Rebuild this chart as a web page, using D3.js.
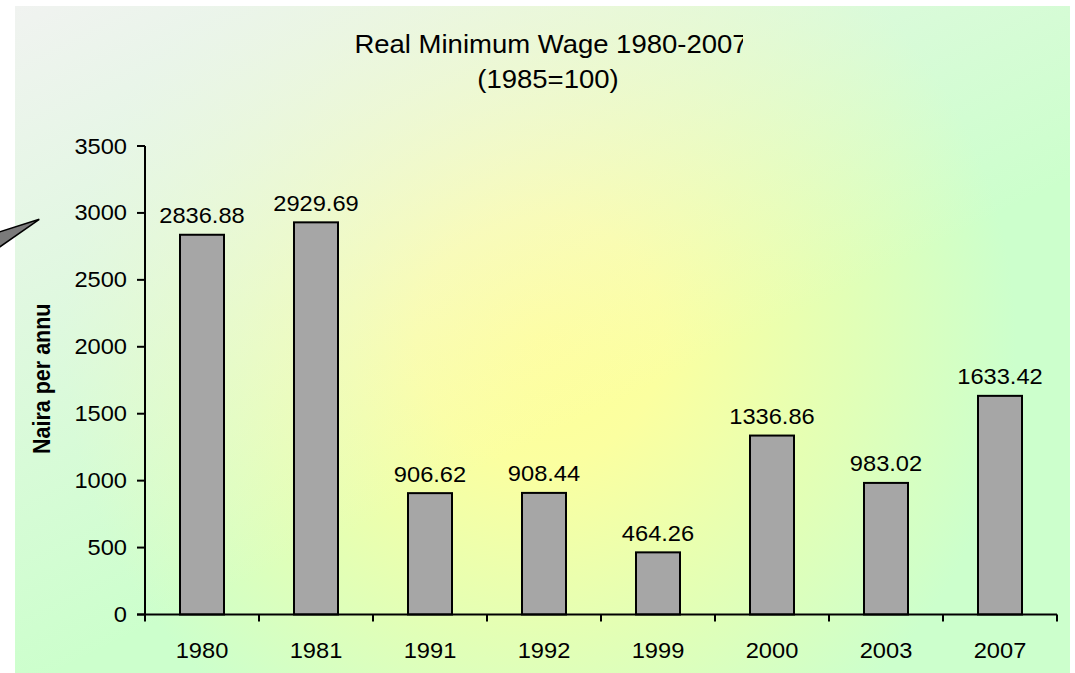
<!DOCTYPE html>
<html>
<head>
<meta charset="utf-8">
<script src="https://cdnjs.cloudflare.com/ajax/libs/d3/7.8.5/d3.min.js"></script>
<style>
  body { margin: 0; background: #fff; }
  svg { display: block; font-family: Arial, "Liberation Sans", sans-serif; }
</style>
</head>
<body>
<svg width="1075" height="673"></svg>
<script>
// chart data
var years = ["1980", "1981", "1991", "1992", "1999", "2000", "2003", "2007"];
var wages = [2836.88, 2929.69, 906.62, 908.44, 464.26, 1336.86, 983.02, 1633.42];
var yTicks = [0, 500, 1000, 1500, 2000, 2500, 3000, 3500];
var titleLines = ["Real Minimum Wage 1980-2007", "(1985=100)"];
var yLabel = "Naira per annum";

var SX = 1.1; // picture is stretched sideways a bit
var margin = { top: 146, left: 145, right: 18, bottom: 58 };
var width = 1075 - margin.left - margin.right;
var height = 673 - margin.top - margin.bottom - 0.5;

var svg = d3.select("svg");
var defs = svg.append("defs");

var rg = defs.append("radialGradient")
    .attr("id", "bg")
    .attr("gradientUnits", "userSpaceOnUse")
    .attr("cx", 540).attr("cy", 340).attr("r", 560);
rg.append("stop").attr("offset", "0").attr("stop-color", "#ffff99");
rg.append("stop").attr("offset", "0.22").attr("stop-color", "#fbffa0");
rg.append("stop").attr("offset", "0.55").attr("stop-color", "#e2ffb6");
rg.append("stop").attr("offset", "0.85").attr("stop-color", "#ccffcc");

var lg = defs.append("linearGradient")
    .attr("id", "corner")
    .attr("x1", "0").attr("y1", "0").attr("x2", "0.5").attr("y2", "0.65");
lg.append("stop").attr("offset", "0").attr("stop-color", "#f2f2f2").attr("stop-opacity", 0.95);
lg.append("stop").attr("offset", "1").attr("stop-color", "#f2f2f2").attr("stop-opacity", 0);

defs.append("clipPath").attr("id", "titleclip")
    .append("rect").attr("x", 0).attr("y", 0).attr("width", 743).attr("height", 120);
defs.append("clipPath").attr("id", "ylabclip")
    .append("rect").attr("x", 0).attr("y", 303).attr("width", 120).attr("height", 300);

// background
svg.append("rect")
    .attr("x", 15).attr("y", 6).attr("width", 1055).attr("height", 667)
    .attr("fill", "url(#bg)");
svg.append("rect")
    .attr("x", 15).attr("y", 6).attr("width", 1055).attr("height", 667)
    .attr("fill", "url(#corner)");

// callout pointer on the left
svg.append("path")
    .attr("d", "M-5,233.3L39.3,219.3L-5,250.2Z")
    .attr("fill", "#7a7a7a")
    .attr("stroke", "#000")
    .attr("stroke-width", 1.5);

// helper: stretched text
function stext(parent, x, y, txt, size, anchor, weight)
{
    var g = parent.append("g")
	.attr("transform", "translate(" + x + "," + y + ") scale(" + SX + ",1)");
    g.append("text")
	.attr("text-anchor", anchor)
	.attr("font-size", size)
	.attr("font-weight", weight || "normal")
	.attr("fill", "#000")
	.text(txt);
    return g;
}

// title
var tg = svg.append("g").attr("clip-path", "url(#titleclip)");
stext(tg, 551, 53, titleLines[0], 25, "middle");
stext(tg, 548, 88, titleLines[1], 25, "middle");

// y label
var yl = svg.append("g").attr("clip-path", "url(#ylabclip)");
yl.append("g")
    .attr("transform", "translate(50,454) scale(" + SX + ",1) rotate(-90)")
    .append("text")
    .attr("font-size", 21.5)
    .attr("font-weight", "bold")
    .text(yLabel);

var g = svg.append("g")
    .attr("transform", "translate(" + margin.left + "," + margin.top + ")");

var x = d3.scaleBand()
    .domain(years)
    .range([0, width])
    .paddingInner(0.614)
    .paddingOuter(0.307);

var y = d3.scaleLinear()
    .domain([0, 3500])
    .range([height, 0]);

// bars
g.selectAll("rect.bar")
    .data(wages)
    .enter().append("rect")
    .attr("class", "bar")
    .attr("x", function(d, i) { return x(years[i]); })
    .attr("y", function(d) { return y(d); })
    .attr("width", x.bandwidth())
    .attr("height", function(d) { return height - y(d); })
    .attr("fill", "#a6a6a6")
    .attr("stroke", "#000")
    .attr("stroke-width", 2);

// value labels
wages.forEach(function(d, i)
	      {
		  stext(g, x(years[i]) + x.bandwidth() / 2, y(d) - 11.5, d.toFixed(2), 21.5, "middle");
	      });

// y axis
g.append("line")
    .attr("x1", 0).attr("x2", 0).attr("y1", 0).attr("y2", height)
    .attr("stroke", "#000").attr("stroke-width", 2);
yTicks.forEach(function(t)
	       {
		   g.append("line")
		       .attr("x1", -8).attr("x2", 0)
		       .attr("y1", y(t)).attr("y2", y(t))
		       .attr("stroke", "#000").attr("stroke-width", 2);
		   stext(g, -18, y(t) + 7.5, t, 21.5, "end");
	       });

// x axis
g.append("line")
    .attr("x1", -8).attr("x2", width).attr("y1", height).attr("y2", height)
    .attr("stroke", "#000").attr("stroke-width", 2);
var step = x.step();
for (var i = 0; i <= years.length; i++)
{
    g.append("line")
	.attr("x1", i * step).attr("x2", i * step)
	.attr("y1", height).attr("y2", height + 7)
	.attr("stroke", "#000").attr("stroke-width", 2);
}
years.forEach(function(yr)
	      {
		  stext(g, x(yr) + x.bandwidth() / 2, height + 43, yr, 21.5, "middle");
	      });
</script>
</body>
</html>
